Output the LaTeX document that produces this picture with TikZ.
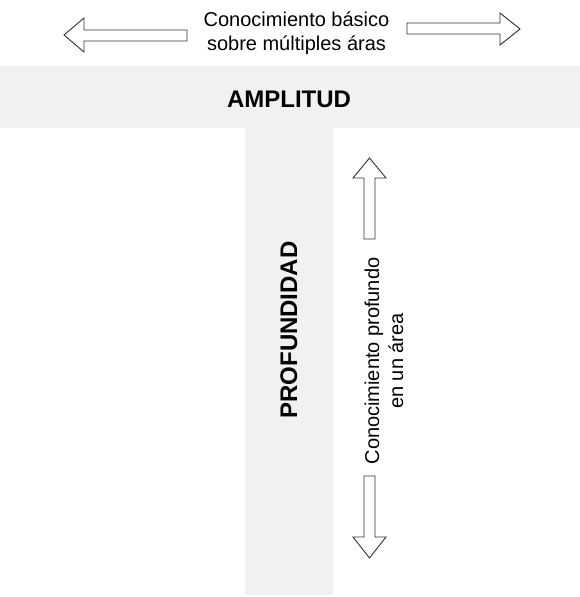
\documentclass[tikz,border=0pt]{standalone}
\usepackage{fontspec}
\setmainfont{Liberation Sans}
\definecolor{bandgray}{HTML}{F1F1F1}
\definecolor{outline}{HTML}{333333}
\begin{document}
\begin{tikzpicture}[x=1pt,y=-1pt,
  bar/.style={fill=bandgray, draw=none, inner sep=0pt, anchor=north west},
  title/.style={font=\fontsize{24}{28}\selectfont\bfseries, inner sep=0pt, anchor=base},
  label/.style={font=\fontsize{20}{24}\selectfont, inner sep=0pt, anchor=base},
  fatarrow/.style={draw=outline, line width=0.9pt, fill=white, line join=miter}]
\useasboundingbox (0,0) rectangle (580,597);
% bands
\node[bar, minimum width=580pt, minimum height=62pt] (band) at (0,66) {};
\node[bar, minimum width=88pt, minimum height=467pt] (column) at (245,128) {};
% titles
\node[title] (amp) at (289,107) {AMPLITUD};
\node[title, rotate=90] (prof) at (297,330) {PROFUNDIDAD};
% top label
\node[label] (top1) at (296.5,26.5) {Conocimiento básico};
\node[label] (top2) at (296.5,50.5) {sobre múltiples áras};
% vertical label
\node[label, rotate=90] (side1) at (379,361) {Conocimiento profundo};
\node[label, rotate=90] (side2) at (403,361) {en un área};
% arrows
\draw[fatarrow] (187,30) -- (84,30) -- (84,18) -- (64,35) -- (84,52) -- (84,41) -- (187,41) -- cycle;
\draw[fatarrow] (407,23) -- (500,23) -- (500,13) -- (520,29) -- (500,45) -- (500,34) -- (407,34) -- cycle;
\draw[fatarrow] (364,239) -- (364,178) -- (353,178) -- (369.5,158) -- (386,178) -- (375,178) -- (375,239) -- cycle;
\draw[fatarrow] (364,476) -- (364,537) -- (353,537) -- (369.5,558) -- (386,537) -- (375,537) -- (375,476) -- cycle;
\end{tikzpicture}
\end{document}
